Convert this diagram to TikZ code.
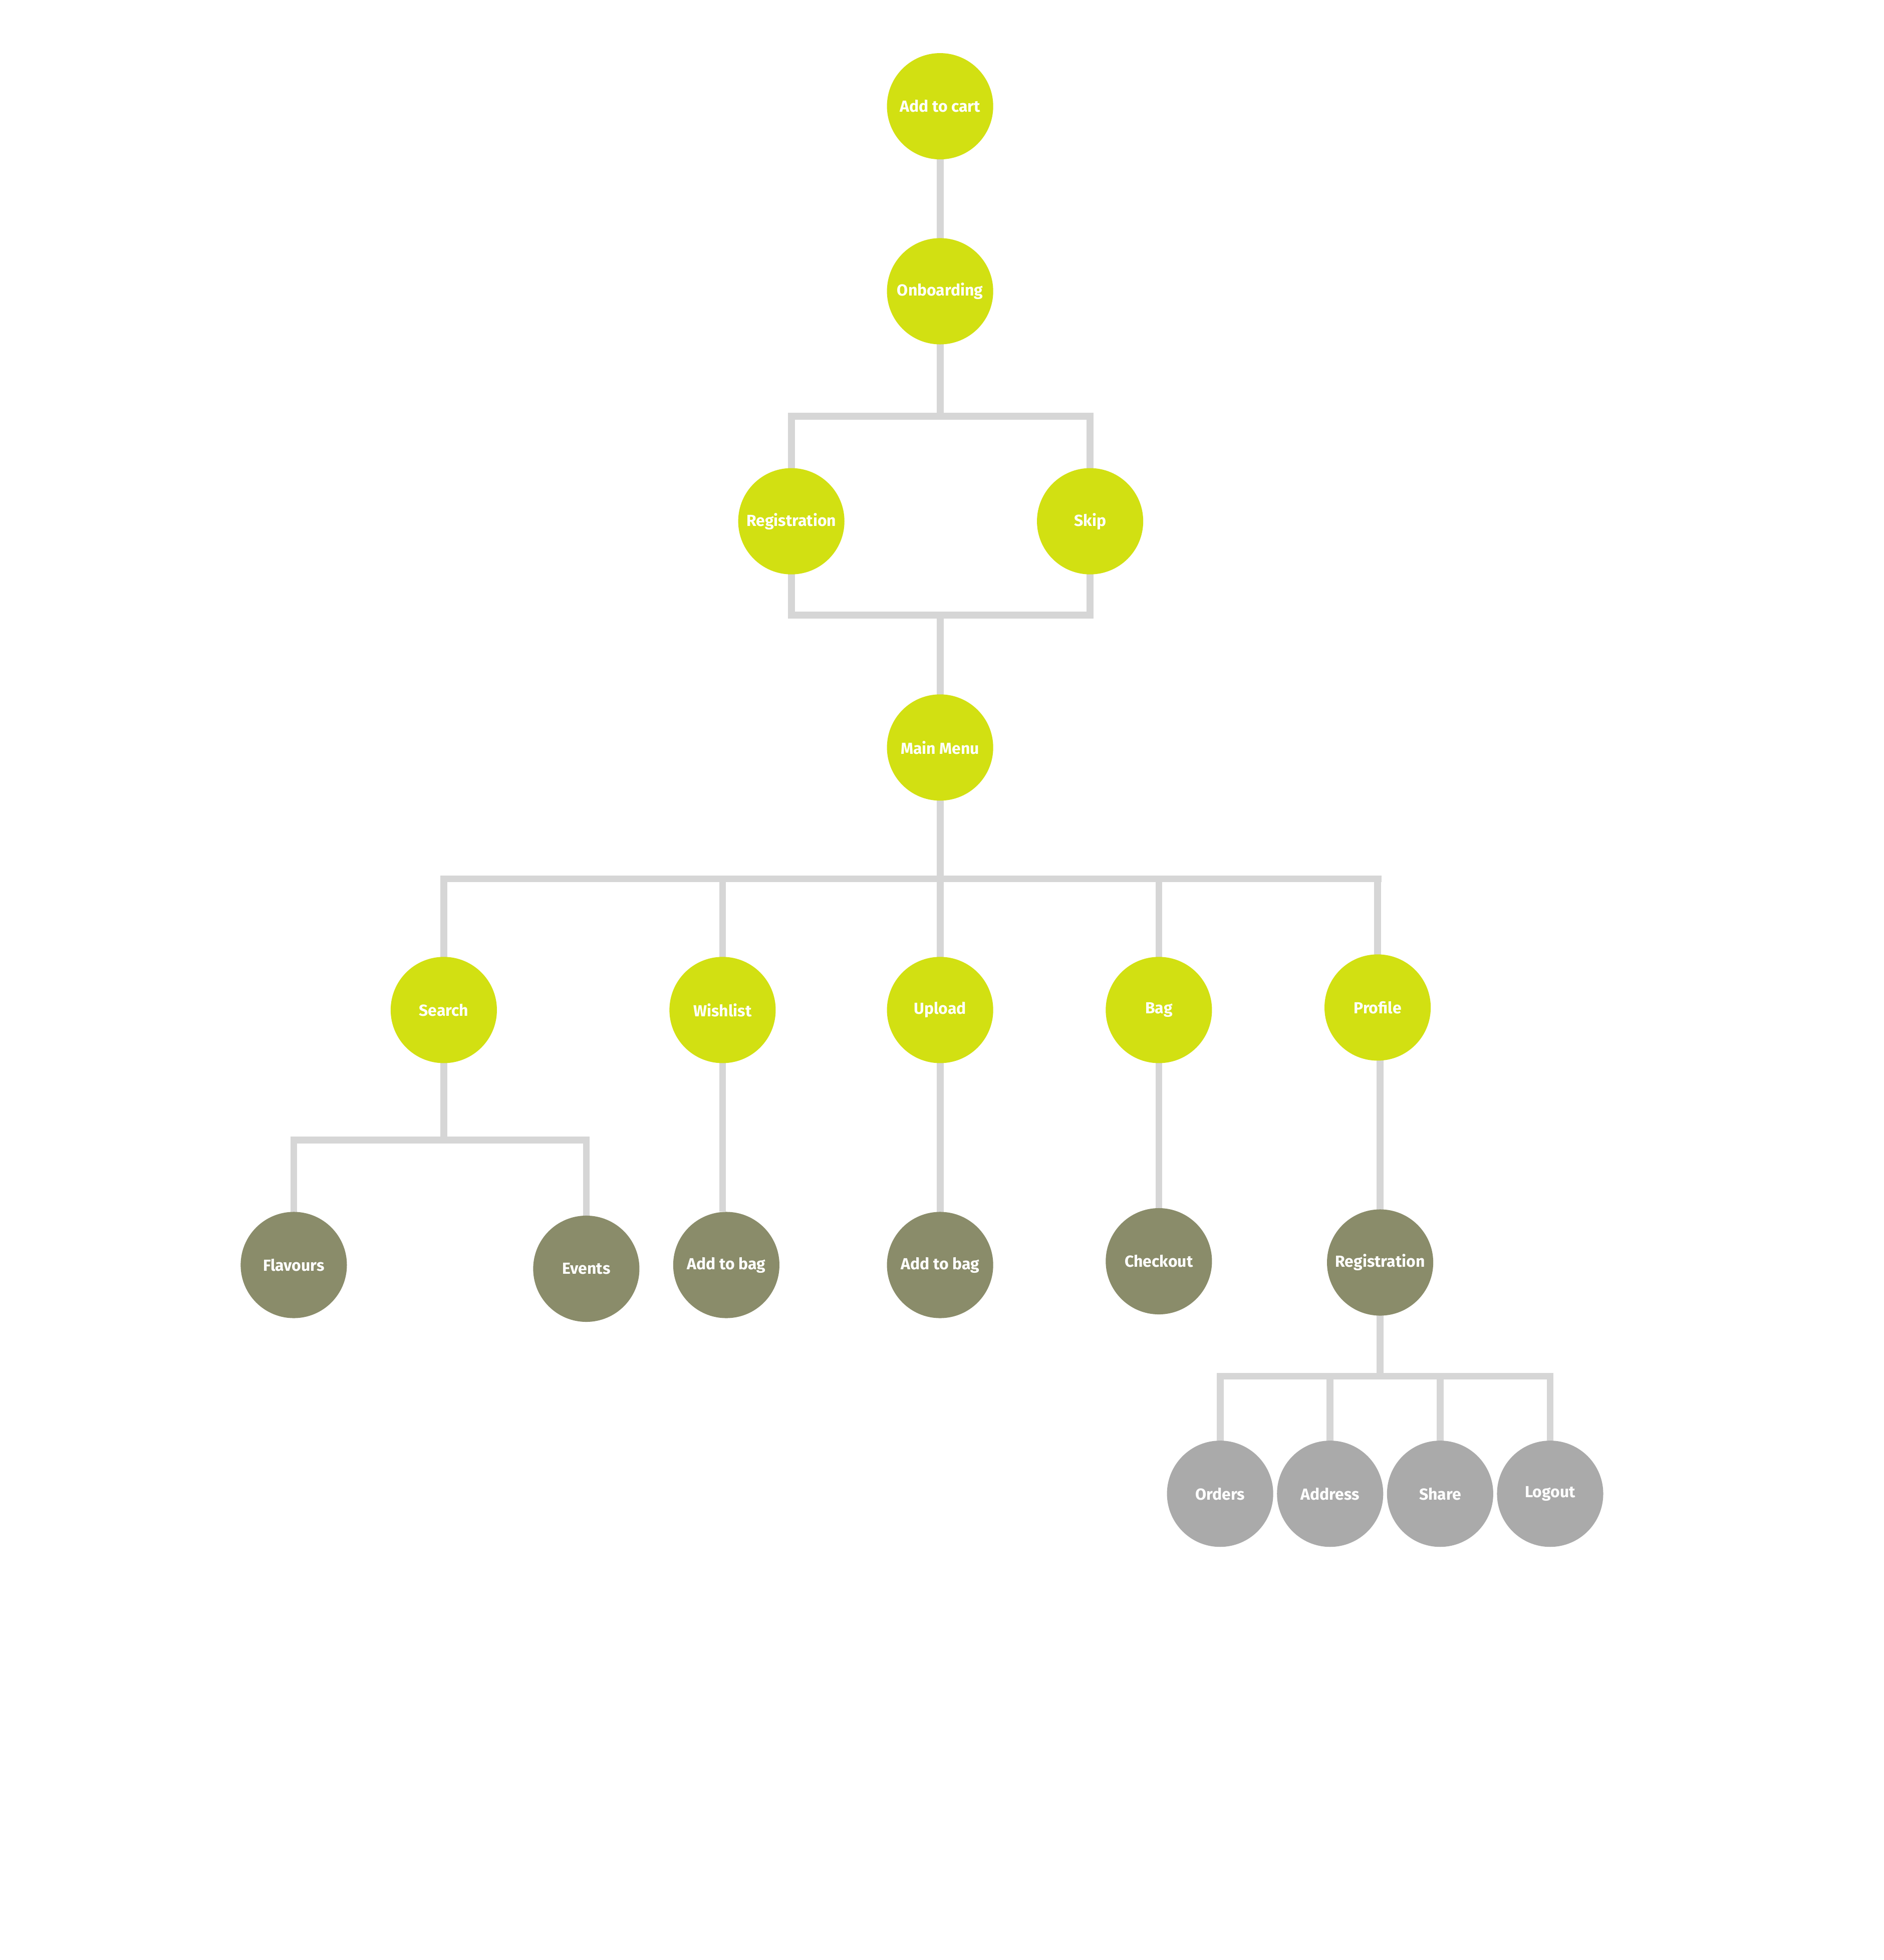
\documentclass[tikz,border=0pt]{standalone}
\usepackage{fontspec}
\setmainfont{Fira Sans}
\usetikzlibrary{backgrounds}
\definecolor{lime}{HTML}{D2E012}
\definecolor{olive}{HTML}{8A8C6A}
\definecolor{greyc}{HTML}{AAAAAA}
\definecolor{linec}{HTML}{D6D6D6}
\tikzset{
  bub/.style={circle,minimum size=85pt,inner sep=0pt,text=white,font=\fontsize{12.8pt}{14pt}\selectfont\bfseries},
  l1/.style={bub,fill=lime},
  l2/.style={bub,fill=olive},
  l3/.style={bub,fill=greyc},
  conn/.style={draw=linec,line width=5.5pt}
}
\begin{document}
\begin{tikzpicture}[x=1pt,y=-1pt]
\useasboundingbox (0,0) rectangle (1507,1568);
\node[l1] (cart) at (752,85) {Add to cart};
\node[l1] (onb) at (752,233) {Onboarding};
\node[l1] (reg) at (633,417) {Registration};
\node[l1] (skip) at (872,417) {Skip};
\node[l1] (main) at (752,598) {Main Menu};
\node[l1] (search) at (355,808) {Search};
\node[l1] (wish) at (578,808) {Wishlist};
\node[l1] (upload) at (752,808) {Upload};
\node[l1] (bag) at (927,808) {Bag};
\node[l1] (profile) at (1102,806) {Profile};
\node[l2] (flav) at (235,1012) {Flavours};
\node[l2] (events) at (469,1015) {Events};
\node[l2] (addbagA) at (581,1012) {Add to bag};
\node[l2] (addbagB) at (752,1012) {Add to bag};
\node[l2] (checkout) at (927,1009) {Checkout};
\node[l2] (reg2) at (1104,1010) {Registration};
\node[l3] (orders) at (976,1195) {Orders};
\node[l3] (address) at (1064,1195) {Address};
\node[l3] (share) at (1152,1195) {Share};
\node[l3] (logout) at (1240,1195) {Logout};
\coordinate (b1) at (752,333);
\coordinate (b2) at (752,492);
\coordinate (b3) at (752,703);
\coordinate (b4) at (355,912);
\coordinate (b5) at (1104,1101);
\begin{pgfonlayer}{background}
\fill[white] (0,0) rectangle (1507,1568);
\draw[conn] (cart.center) -- (onb.center);
\draw[conn] (onb.center) -- (b1);
\draw[conn] (reg.center) |- (b1) -| (skip.center);
\draw[conn] (reg.center) |- (b2) -| (skip.center);
\draw[conn] (b2) -- (main.center);
\draw[conn] (main.center) -- (b3);
\draw[conn] (search.center) |- (b3) -- (1105,703);
\draw[conn] (profile.center) -- (profile |- b3);
\draw[conn] (wish.center) -- (wish |- b3);
\draw[conn] (upload.center) -- (b3);
\draw[conn] (bag.center) -- (bag |- b3);
\draw[conn] (search.center) -- (b4);
\draw[conn] (flav.center) |- (b4) -| (events.center);
\draw[conn] (wish.center) -- (wish |- addbagA.north);
\draw[conn] (upload.center) -- (addbagB.center);
\draw[conn] (bag.center) -- (checkout.center);
\draw[conn] (reg2 |- profile.center) -- (reg2.center);
\draw[conn] (reg2.center) -- (b5);
\draw[conn] (orders.center) |- (b5) -| (logout.center);
\draw[conn] (address.center) -- (address |- b5);
\draw[conn] (share.center) -- (share |- b5);
\end{pgfonlayer}
\end{tikzpicture}
\end{document}
